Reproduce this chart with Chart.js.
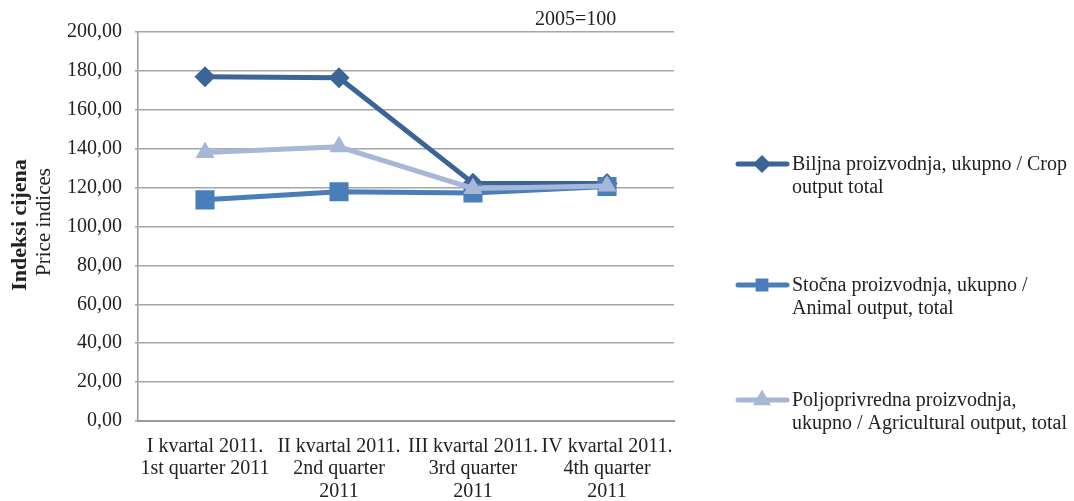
<!DOCTYPE html>
<html>
<head>
<meta charset="utf-8">
<script src="https://cdn.jsdelivr.net/npm/chart.js@4.4.1/dist/chart.umd.min.js"></script>
<style>
html,body{margin:0;padding:0;background:#fff;}
#wrap{position:relative;width:1074px;height:501px;}
</style>
</head>
<body>
<div id="wrap"><canvas id="c" width="1074" height="501"></canvas></div>
<script>
const categories = [
  ["I kvartal 2011.", "1st quarter 2011"],
  ["II kvartal 2011.", "2nd quarter", "2011"],
  ["III kvartal 2011.", "3rd quarter", "2011"],
  ["IV kvartal 2011.", "4th quarter", "2011"]
];
const cropValues = [177.0, 176.5, 122.3, 122.1];
const animalValues = [113.7, 117.9, 117.2, 120.6];
const agriValues = [138.0, 141.0, 119.6, 120.8];
const seriesNames = [
  ["Biljna proizvodnja, ukupno / Crop", "output total"],
  ["Stočna proizvodnja, ukupno /", "Animal output, total"],
  ["Poljoprivredna proizvodnja,", "ukupno / Agricultural output, total"]
];
const yTicks = [0, 20, 40, 60, 80, 100, 120, 140, 160, 180, 200];
const colors = ["#3B6497", "#4A7EBB", "#A7B7D8"];
const FONT = "'Liberation Serif', 'Times New Roman', serif";
const FS = 20;

const extras = {
  id: 'extras',
  afterDraw(chart) {
    const ctx = chart.ctx;
    ctx.save();
    ctx.fillStyle = '#222';
    ctx.font = FS + 'px ' + FONT;
    ctx.textAlign = 'left';
    ctx.textBaseline = 'middle';
    ctx.fillText('2005=100', 535, 20);
    ctx.restore();
    // y axis title
    ctx.save();
    ctx.fillStyle = '#222';
    ctx.textAlign = 'center';
    ctx.textBaseline = 'middle';
    ctx.translate(20, 225);
    ctx.rotate(-Math.PI / 2);
    ctx.font = 'bold 22px ' + FONT;
    ctx.fillText('Indeksi cijena', 0, 0);
    ctx.restore();
    ctx.save();
    ctx.fillStyle = '#222';
    ctx.textAlign = 'center';
    ctx.textBaseline = 'middle';
    ctx.translate(44, 222);
    ctx.rotate(-Math.PI / 2);
    ctx.font = '21px ' + FONT;
    ctx.fillText('Price indices', 0, 0);
    ctx.restore();
    // legend
    const ly = [164, 285, 400];
    const styles = ['rectRot', 'rect', 'triangle'];
    chart.data.datasets.forEach((ds, i) => {
      ctx.save();
      ctx.strokeStyle = colors[i];
      ctx.lineWidth = 5;
      ctx.lineCap = 'round';
      ctx.beginPath();
      ctx.moveTo(738, ly[i]);
      ctx.lineTo(787, ly[i]);
      ctx.stroke();
      Chart.helpers.drawPoint(ctx, {pointStyle: styles[i], radius: 5.5, rotation: 0, borderWidth: 1}, 762, ly[i]);
      ctx.fillStyle = colors[i];
      ctx.fill();
      ctx.fillStyle = '#222';
      ctx.font = FS + 'px ' + FONT;
      ctx.textAlign = 'left';
      ctx.textBaseline = 'middle';
      seriesNames[i].forEach((t, k) => ctx.fillText(t, 792, ly[i] + 1 + k * 23));
      ctx.restore();
    });
  }
};

function ds(label, data, color, style, radius, order) {
  return {
    label, data, borderColor: color, backgroundColor: color,
    borderWidth: 5, pointStyle: style, pointRadius: radius, pointHoverRadius: radius,
    pointBorderWidth: 0, tension: 0, order
  };
}

new Chart(document.getElementById('c'), {
  type: 'line',
  data: {
    labels: categories,
    datasets: [
      ds(seriesNames[0].join(' '), cropValues, colors[0], 'rectRot', 10.5, 2),
      ds(seriesNames[1].join(' '), animalValues, colors[1], 'rect', 13.5, 1),
      ds(seriesNames[2].join(' '), agriValues, colors[2], 'triangle', 11, 0)
    ]
  },
  options: {
    responsive: false,
    animation: false,
    devicePixelRatio: 1,
    layout: { padding: { top: 32, right: 400, left: 0, bottom: 0 } },
    plugins: { legend: { display: false }, tooltip: { enabled: false } },
    scales: {
      x: {
        offset: true,
        grid: { display: false, drawTicks: false },
        border: { display: true, color: '#9a9a9a', width: 2 },
        ticks: { color: '#222', font: { family: FONT, size: FS, lineHeight: 1.125 }, maxRotation: 0, autoSkip: false, padding: 14 },
        afterFit(s) { s.height = 80; }
      },
      y: {
        min: 0, max: 200,
        afterBuildTicks(s) { s.ticks = yTicks.map(v => ({ value: v })); },
        grid: { color: '#a6a6a6', lineWidth: 1.5, tickLength: 3 },
        border: { display: true, color: '#9a9a9a', width: 1.5 },
        ticks: {
          color: '#222', font: { family: FONT, size: FS }, padding: 13,
          callback: v => v.toFixed(2).replace('.', ',')
        },
        afterFit(s) { s.width = 138; }
      }
    }
  },
  plugins: [extras]
});
</script>
</body>
</html>
